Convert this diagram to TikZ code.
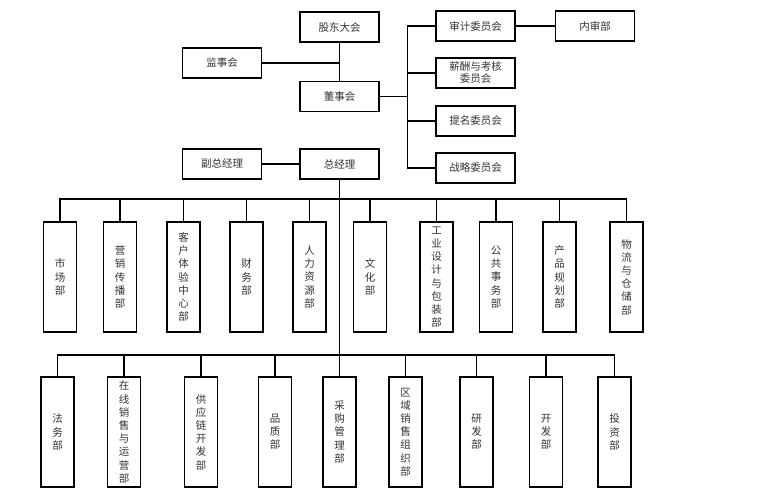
\documentclass[tikz,border=0pt]{standalone}
\usepackage{fontspec}
\setmainfont{Noto Sans CJK SC}
\tikzset{
  box/.style={draw, line width=1.1pt, minimum width=79pt, minimum height=30pt, inner sep=1pt, align=center, text=black!80, font=\fontsize{10.5}{12}\selectfont},
  vbox/.style={draw, line width=1.1pt, minimum width=33pt, minimum height=110pt, inner sep=1pt, align=center, text=black!80, font=\fontsize{10.5}{13.2}\selectfont},
  link/.style={line width=1.2pt}
}
\begin{document}
\begin{tikzpicture}[x=1pt, y=-1pt]
    \useasboundingbox[fill=white] (0, 0) rectangle (783, 498);
    \begin{scope}

      \node[box] (gd) at (339.5, 27) {股东大会};
      \node[box] (jsh) at (222, 63) {监事会};
      \node[box] (dsh) at (339.5, 96.5) {董事会};
      \node[box] (fzjl) at (222, 164) {副总经理};
      \node[box] (zjl) at (339.5, 164) {总经理};

      \node[box] (sj) at (475.5, 26) {审计委员会};
      \node[box] (xc) at (475.5, 73) {薪酬与考核\\委员会};
      \node[box] (tm) at (475.5, 121) {提名委员会};
      \node[box] (zl) at (475.5, 168) {战略委员会};
      \node[box] (ns) at (595, 26) {内审部};

      \draw[link] (gd) -- (dsh);
      \draw[link] (jsh.east) -- (jsh.east -| gd.south);
      \draw[link] (dsh.east) -- ++(28, 0) coordinate (cbus);
      \foreach \c in {sj, xc, tm, zl}
        \draw[link] (cbus) |- (\c.west);
      \draw[link] (sj) -- (ns);
      \draw[link] (fzjl) -- (zjl);

      \coordinate (bus1) at (339.5, 199);
      \coordinate (bus2) at (339.5, 355);

      \foreach \n/\x/\t in {m1/60/{市\\场\\部}, m2/120/{营\\销\\传\\播\\部},
          m3/183.5/{客\\户\\体\\验\\中\\心\\部}, m4/246.5/{财\\务\\部},
          m5/309.5/{人\\力\\资\\源\\部}, m6/370/{文\\化\\部},
          m7/436.5/{工\\业\\设\\计\\与\\包\\装\\部}, m8/496/{公\\共\\事\\务\\部},
          m9/559.5/{产\\品\\规\\划\\部}, m10/626.5/{物\\流\\与\\仓\\储\\部}}{
        \node[vbox] (\n) at (\x, 277) {\t};
        \draw[link] (\n.north) |- (bus1);
      }

      \foreach \n/\x/\t in {b1/57.5/{法\\务\\部}, b2/124/{在\\线\\销\\售\\与\\运\\营\\部},
          b3/201/{供\\应\\链\\开\\发\\部}, b4/275/{品\\质\\部},
          b6/405.5/{区\\域\\销\\售\\组\\织\\部}, b7/476.5/{研\\发\\部},
          b8/546/{开\\发\\部}, b9/614.5/{投\\资\\部}}{
        \node[vbox] (\n) at (\x, 432) {\t};
        \draw[link] (\n.north) |- (bus2);
      }
      \node[vbox] (b5) at (339.5, 432) {采\\购\\管\\理\\部};

      \draw[link] (zjl) -- (b5);
    \end{scope}
  \end{tikzpicture}
\end{document}
